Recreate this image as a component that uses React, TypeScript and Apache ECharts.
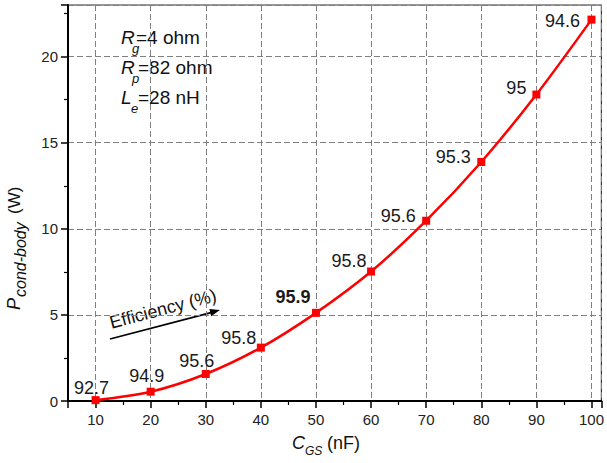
import React, { useEffect, useRef } from "react";
import * as echarts from "echarts";

const capacitance = [10, 20, 30, 40, 50, 60, 70, 80, 90, 100];
const powerLoss = [0.05, 0.54, 1.57, 3.1, 5.12, 7.52, 10.47, 13.88, 17.8, 22.15];
const efficiency = ["92.7", "94.9", "95.6", "95.8", "95.9", "95.8", "95.6", "95.3", "95", "94.6"];
const boldIndex = 4;

// label offsets (layout only)
const labelOffsets: [number, number][] = [
  [-4, -12], [-4, -16], [-9, -13], [-22, -10], [-23, -16],
  [-22, -11], [-28, -5], [-28, -5], [-20, -7], [-29, 1],
];

const FONT = "'Liberation Sans', Arial, sans-serif";

export default function App() {
  const ref = useRef<HTMLDivElement>(null);
  useEffect(() => {
    if (!ref.current) return;
    const chart = echarts.init(ref.current, null, { renderer: "svg" });
    const data = capacitance.map((c, i) => ({
      value: [c, powerLoss[i]],
      label: {
        show: true,
        position: "inside",
        offset: labelOffsets[i],
        formatter: efficiency[i],
        fontWeight: i === boldIndex ? "bold" : "normal",
      },
    }));
    const txt = (text: string, x: number, y: number, font: string) => ({
      type: "text",
      x,
      y,
      style: { text, font, fill: "#111", verticalAlign: "bottom" },
    });
    chart.setOption({
      animation: false,
      backgroundColor: "#fff",
      grid: {
        left: 68,
        right: 3,
        top: 5,
        bottom: 62,
        show: true,
        borderColor: "#333",
        borderWidth: 1.2,
        backgroundColor: "transparent",
      },
      xAxis: {
        type: "value",
        min: 5,
        max: 101.8,
        splitNumber: 10,
        axisLine: { show: true, onZero: false, lineStyle: { color: "#000", width: 2 } },
        axisTick: { show: true, length: 7, lineStyle: { color: "#000", width: 1.5 } },
        minorTick: { show: true, splitNumber: 2, length: 4, lineStyle: { color: "#000", width: 1.2 } },
        axisLabel: {
          showMinLabel: false,
          showMaxLabel: false,
          color: "#222",
          fontSize: 15,
          fontFamily: FONT,
          margin: 11,
        },
        splitLine: { show: true, lineStyle: { color: "#808080", type: [6, 3], width: 1 } },
      },
      yAxis: {
        type: "value",
        min: 0,
        max: 23,
        interval: 5,
        axisLine: { show: true, lineStyle: { color: "#000", width: 2 } },
        axisTick: { show: true, length: 7, lineStyle: { color: "#000", width: 1.5 } },
        minorTick: { show: true, splitNumber: 2, length: 4, lineStyle: { color: "#000", width: 1.2 } },
        axisLabel: {
          showMaxLabel: false,
          color: "#222",
          fontSize: 15,
          fontFamily: FONT,
          margin: 10,
        },
        splitLine: { show: true, lineStyle: { color: "#808080", type: [6, 3], width: 1 } },
      },
      series: [
        {
          type: "line",
          data,
          smooth: 0.3,
          symbol: "rect",
          symbolSize: 8,
          itemStyle: { color: "#ff0000" },
          lineStyle: { color: "#ff0000", width: 2.5 },
          label: {
            color: "#1a1a1a",
            fontSize: 18,
            fontFamily: FONT,
          },
          z: 3,
        },
      ],
      graphic: [
        // annotations
        txt("R", 121, 47, `italic 19px ${FONT}`),
        txt("g", 132, 55, `italic 13px ${FONT}`),
        txt("=4 ohm", 136, 47, `19px ${FONT}`),
        txt("R", 121, 77, `italic 19px ${FONT}`),
        txt("p", 132, 85, `italic 13px ${FONT}`),
        txt("=82 ohm", 138, 77, `19px ${FONT}`),
        txt("L", 121, 107, `italic 19px ${FONT}`),
        txt("e", 131, 115, `italic 13px ${FONT}`),
        txt("=28 nH", 138, 107, `19px ${FONT}`),
        // efficiency arrow
        {
          type: "text",
          x: 163,
          y: 309,
          rotation: 0.258,
          style: {
            text: "Efficiency (%)",
            font: `18px ${FONT}`,
            fill: "#111",
            align: "center",
            verticalAlign: "middle",
          },
        },
        {
          type: "line",
          shape: { x1: 110, y1: 339, x2: 211, y2: 312.6 },
          style: { stroke: "#000", lineWidth: 1.8 },
        },
        {
          type: "polygon",
          shape: { points: [[220, 310], [211.2, 316.2], [209.4, 309.0]] },
          style: { fill: "#000" },
        },
        // y axis title
        {
          type: "group",
          x: 23,
          y: 310,
          rotation: Math.PI / 2,
          children: [
            txt("P", 0, 0, `italic 18px ${FONT}`),
            txt("cond-body", 13, 5, `italic 16px ${FONT}`),
            txt("(W)", 96, 0, `17px ${FONT}`),
          ],
        },
        // x axis title
        {
          type: "group",
          x: 292,
          y: 452,
          children: [
            txt("C", 0, 0, `italic 18px ${FONT}`),
            txt("GS", 13, 5, `italic 12px ${FONT}`),
            txt("(nF)", 35, 0, `18px ${FONT}`),
          ],
        },
      ],
    });
    return () => chart.dispose();
  }, []);
  return (
    <div
      ref={ref}
      style={{ position: "absolute", left: 0, top: 0, width: 607, height: 463 }}
    />
  );
}
